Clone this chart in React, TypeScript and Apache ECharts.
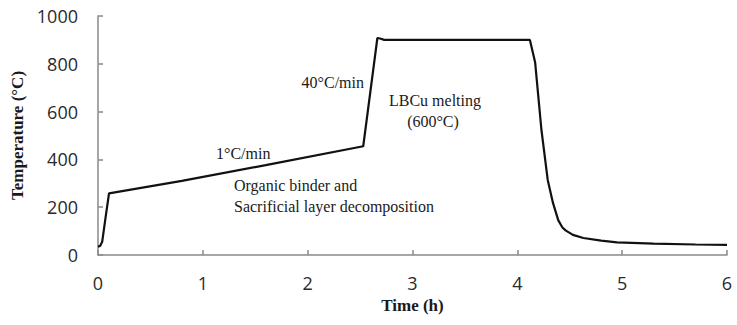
import React, { useEffect, useRef } from "react";
import * as echarts from "echarts";

const timeH = [0, 0.02, 0.04, 0.07, 0.105, 0.8, 1.6, 2.53, 2.665, 2.69, 2.73, 3.4, 4.12, 4.17, 4.23, 4.29, 4.34, 4.39, 4.43, 4.46, 4.53, 4.63, 4.8, 4.95, 5.3, 5.7, 6];
const tempC = [35, 38, 55, 150, 258, 310, 376, 455, 908, 906, 900, 900, 900, 805, 523, 314, 218, 146, 115, 103, 84, 71, 60, 53, 48, 44, 42];
const xTicks = [0, 1, 2, 3, 4, 5, 6];
const yTicks = [0, 200, 400, 600, 800, 1000];

const serif = "'Liberation Serif', 'Times New Roman', serif";
const sans = "'Open Sans', 'Noto Sans', sans-serif";

export default function App() {
  const ref = useRef<HTMLDivElement>(null);
  useEffect(() => {
    if (!ref.current) return;
    const chart = echarts.init(ref.current, undefined, { renderer: "svg" });
    const data = timeH.map((t, i) => [t, tempC[i]]);
    const txt = (text: string, x: number, y: number, align: string = "left") => ({
      type: "text",
      x,
      y,
      style: { text, font: `16px ${serif}`, fill: "#1a1a1a", textAlign: align, textVerticalAlign: "middle" },
    });
    chart.setOption({
      animation: false,
      backgroundColor: "#ffffff",
      grid: { left: 98, right: 10, top: 16, bottom: 70 },
      xAxis: {
        type: "value",
        min: xTicks[0],
        max: xTicks[xTicks.length - 1],
        interval: 1,
        name: "Time (h)",
        nameLocation: "middle",
        nameGap: 39,
        nameTextStyle: { fontFamily: serif, fontWeight: "bold", fontSize: 17, color: "#1a1a1a" },
        axisLine: { lineStyle: { color: "#8a8a8a", width: 1.5 } },
        axisTick: { inside: true, length: 5, lineStyle: { color: "#8a8a8a", width: 1.5 } },
        axisLabel: { fontFamily: sans, fontSize: 18, color: "#2a2a2a", margin: 19, formatter: (v: number) => String(v) },
        splitLine: { show: false },
      },
      yAxis: {
        type: "value",
        min: yTicks[0],
        max: yTicks[yTicks.length - 1],
        interval: 200,
        name: "Temperature (°C)",
        nameLocation: "middle",
        nameGap: 64,
        nameTextStyle: { fontFamily: serif, fontWeight: "bold", fontSize: 17, color: "#1a1a1a" },
        axisLine: { show: true, lineStyle: { color: "#8a8a8a", width: 1.5 } },
        axisTick: { show: true, inside: true, length: 5, lineStyle: { color: "#8a8a8a", width: 1.5 } },
        axisLabel: { fontFamily: sans, fontSize: 18, color: "#2a2a2a", margin: 20, formatter: (v: number) => String(v) },
        splitLine: { show: false },
      },
      series: [
        {
          type: "line",
          data,
          showSymbol: false,
          lineStyle: { color: "#111", width: 2.2 },
          smooth: false,
        },
      ],
      graphic: [
        txt("40°C/min", 364, 82, "right"),
        txt("LBCu melting", 389, 100),
        txt("(600°C)", 433, 121, "center"),
        txt("1°C/min", 216, 153),
        txt("Organic binder and", 234, 185),
        txt("Sacrificial layer decomposition", 234, 206),
      ],
    });
    return () => chart.dispose();
  }, []);
  return <div ref={ref} style={{ position: "absolute", left: 0, top: 0, width: 737, height: 325 }} />;
}
